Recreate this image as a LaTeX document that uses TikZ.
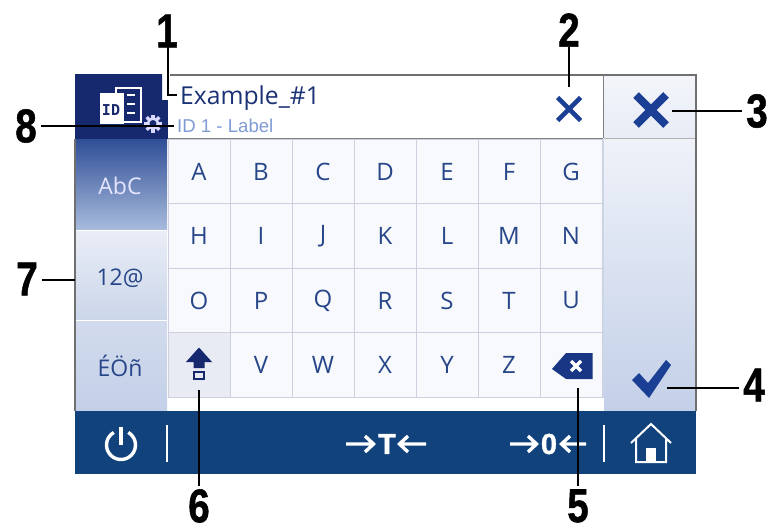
\documentclass[tikz,border=0pt]{standalone}
\usepackage{fontspec}
\setmainfont{Open Sans}
\newfontfamily\arialf{Liberation Sans}
\newfontfamily\callf[BoldFeatures={FakeBold=1.2}]{Liberation Sans}
\newfontfamily\monob{DejaVu Sans Mono}
\definecolor{navy}{HTML}{16296E}
\definecolor{barblue}{HTML}{11427C}
\definecolor{keyink}{HTML}{264689}
\definecolor{iconblue}{HTML}{1B3F94}
\definecolor{keyline}{HTML}{CDD0DF}
\definecolor{framegray}{HTML}{707070}
\definecolor{hintblue}{HTML}{7F9BD3}
\definecolor{keyfill}{HTML}{F8F9FC}
\definecolor{shiftfill}{HTML}{E8EBF4}
\definecolor{abctop}{HTML}{2F4E96}
\definecolor{abcbot}{HTML}{A9BCDD}
\definecolor{numtop}{HTML}{E9EDF6}
\definecolor{numbot}{HTML}{CBD6EA}
\definecolor{acctop}{HTML}{D2DBED}
\definecolor{accbot}{HTML}{C3D0E8}
\definecolor{coltop}{HTML}{EFF2F9}
\definecolor{colbot}{HTML}{C3D0E8}
\definecolor{captop}{HTML}{F3F5FA}
\definecolor{capbot}{HTML}{E7ECF6}
\tikzset{
  x=1pt,y=-1pt,
  keybox/.style={draw=keyline,line width=0.8pt,fill=#1,minimum width=62pt,minimum height=64.5pt,inner sep=0pt,
     text=keyink,font=\fontsize{24}{24}\selectfont,anchor=center},
  keybox/.default=keyfill,
  callout/.style={font=\callf\bfseries\fontsize{46}{46}\selectfont,text=black,inner sep=0pt},
  leader/.style={draw=black,line width=1.8pt},
  tabtext/.style={font=\fontsize{23}{23}\selectfont,inner sep=0pt},
  baricon/.style={white,line width=3.4pt},
  bararrow/.style={white,line width=3.4pt},
  barglyph/.style={font=\callf\bfseries\fontsize{29}{29}\selectfont,text=white,inner sep=0pt},
}
\newcommand{\digitshape}[1]{\scalebox{.84}[1.03]{#1}}
\begin{document}
\begin{tikzpicture}
\useasboundingbox (0,0) rectangle (771,530);
\fill[white] (0,0) rectangle (771,530);
% header icon panel
\fill[navy] (75,74) -- (162,74) -- (162,100) -- (168,100) -- (168,139) -- (75,139) -- cycle;
% text field
\fill[white] (168,76) rectangle (603,138);
% left tabs
\shade[top color=abctop,bottom color=abcbot] (75,139) rectangle (167,230);
\shade[top color=numtop,bottom color=numbot] (75,231) rectangle (167,320);
\shade[top color=acctop,bottom color=accbot] (75,321) rectangle (167,411);
\draw[white,line width=0.8pt] (75,230.5) -- (167,230.5) (75,320.5) -- (167,320.5);
% right column
\shade[top color=captop,bottom color=capbot] (604,75) rectangle (696,138);
\shade[top color=coltop,bottom color=colbot] (604,139) rectangle (696,411);
\draw[gray!60,line width=0.8pt] (604,138.5) -- (696,138.5);
% keys
\foreach \lab [count=\i from 0] in {A,B,C,D,E,F,G}
  \node[keybox] (k1\i) at (199+62*\i,171.5) {\lab};
\foreach \lab [count=\i from 0] in {H,I,J,K,L,M,N}
  \node[keybox] (k2\i) at (199+62*\i,236) {\lab};
\foreach \lab [count=\i from 0] in {O,P,Q,R,S,T,U}
  \node[keybox] (k3\i) at (199+62*\i,300.5) {\lab};
\node[keybox=shiftfill] (k40) at (199,365) {};
\foreach \lab [count=\i from 1] in {V,W,X,Y,Z}
  \node[keybox] (k4\i) at (199+62*\i,365) {\lab};
\node[keybox] (k46) at (571,365) {};
\draw[numbot,line width=1pt] (603.5,139) -- (603.5,398);
% bottom bar
\fill[barblue] (75,411) rectangle (696,474);
% frame
\draw[framegray,line width=1.4pt] (170,75) -- (696,75) -- (696,411);
\draw[framegray,line width=1.2pt] (75,139) -- (75,411);
\draw[gray,line width=0.8pt] (168,138.5) -- (603,138.5);
\draw[gray,line width=0.8pt] (603.5,75) -- (603.5,138);
% header icon
\draw[white,line width=1.3pt] (116,88) rectangle (141,122);
\foreach \yy in {95,104,113} \fill[white] (127,\yy-1) rectangle (135,\yy+1);
\fill[white] (100,93) rectangle (124,124);
\node[font=\monob\bfseries\fontsize{15}{15}\selectfont,text=navy,inner sep=0pt] (idicon) at (111,110) {ID};
\fill[navy] (142,112) rectangle (168,135);
\draw[white!85!blue,line width=2.6pt] (153,123.5) circle (5);
\foreach \a in {0,45,...,315} \fill[white!85!blue,rotate around={\a:(153,123.5)}] (151.4,114.5) rectangle (154.6,118);
% field text
\node[font=\fontsize{24.7}{24.7}\selectfont,text=navy!70!keyink,inner sep=0pt,anchor=base west] (example) at (180,104) {Example\_\#1};
\node[font=\arialf\fontsize{18.6}{18.6}\selectfont,text=hintblue,inner sep=0pt,anchor=base west] (idlabel) at (177,132) {ID 1 - Label};
% clear X
\draw[iconblue,line width=4.6pt] (557.5,97.5) -- (580.5,120.5) (557.5,120.5) -- (580.5,97.5);
% cancel X
\draw[iconblue,line width=7.8pt] (636,95) -- (666,125) (636,125) -- (666,95);
% check
\fill[iconblue] (632,380) -- (639,373) -- (648,383) -- (666,360) -- (671,365) -- (649,398) -- cycle;
% tab labels
\node[tabtext,text=white!90!blue] (abc) at (120,186) {AbC};
\node[tabtext,text=keyink] (num) at (120,278) {12@};
\node[tabtext,text=keyink] (acc) at (120,366) {ÉÖñ};
% shift icon
\fill[navy] (199,347.5) -- (212,362) -- (204.5,362) -- (204.5,368) -- (193.5,368) -- (193.5,362) -- (186,362) -- cycle;
\draw[navy,line width=2pt] (194,372) rectangle (204,379);
\coordinate (shift) at (199,390);
% backspace icon
\fill[navy!40!iconblue] (552,369) -- (566,353) -- (592.5,353) -- (592.5,379) -- (566,379) -- cycle;
\draw[white,line width=3.3pt] (571,361) -- (581,371) (571,371) -- (581,361);
\coordinate (bksp) at (578,388);
% bottom bar content
\draw[baricon] (121,427) -- (121,445);
\draw[baricon] (128.25,432.44) arc[start angle=-60,end angle=240,radius=14.5];
\draw[white,line width=2pt] (167,425) -- (167,462);
\draw[white,line width=2pt] (604,425) -- (604,462);
\node[barglyph] (tare) at (387,444) {T};
\node[barglyph] (zero) at (549,444) {0};
\draw[bararrow] (346,444) -- (373,444) (365,436) -- (373.5,444) -- (365,452);
\draw[bararrow] (426,444) -- (400,444) (408,436) -- (399.5,444) -- (408,452);
\draw[bararrow] (510,444) -- (536,444) (528,436) -- (536.5,444) -- (528,452);
\draw[bararrow] (586,444) -- (562,444) (570,436) -- (561.5,444) -- (570,452);
\draw[white,line width=2pt,line join=miter] (631,443) -- (651,424) -- (671,443) (636,439) -- (636,462) -- (666,462) -- (666,439);
\fill[white] (646,448) rectangle (656,462);
% callouts
\node[callout] (n1) at (167,31) {\digitshape{1}};
\node[callout] (n2) at (569,30) {\digitshape{2}};
\node[callout] (n3) at (757,111) {\digitshape{3}};
\node[callout] (n4) at (754,385) {\digitshape{4}};
\node[callout] (n5) at (578,506) {\digitshape{5}};
\node[callout] (n6) at (199,506) {\digitshape{6}};
\node[callout] (n7) at (27,279) {\digitshape{7}};
\node[callout] (n8) at (26,126) {\digitshape{8}};
\coordinate (t1) at (177,95);
\coordinate (t2) at (569,87);
\coordinate (t3) at (672,111);
\coordinate (t4) at (667,388);
\coordinate (t7) at (75,280);
\coordinate (t8) at (174,126);
\draw[leader] (n1.south) ++(1,0) |- (t1);
\draw[leader] (n2.south) -- (t2);
\draw[leader] (n3.west) ++(-4,0) -- (t3);
\draw[leader] (n4.west) ++(-4,3) -- (t4);
\draw[leader] (n5.north) ++(0,-3) -- (bksp);
\draw[leader] (n6.north) ++(0,-3) -- (shift);
\draw[leader] (n7.east) ++(4,1) -- (t7);
\draw[leader] (n8.east) ++(4,0) -- (t8);
\end{tikzpicture}
\end{document}
